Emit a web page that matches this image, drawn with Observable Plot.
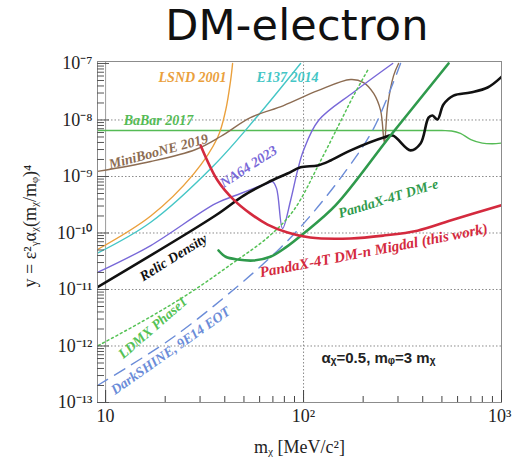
<!DOCTYPE html>
<html><head><meta charset="utf-8">
<script src="https://cdn.jsdelivr.net/npm/d3@7"></script>
<script src="https://cdn.jsdelivr.net/npm/@observablehq/plot@0.6"></script>
<style>
body{margin:0;background:#fff;width:512px;height:469px;overflow:hidden}
#title{height:50px;font-family:"DejaVu Sans",sans-serif;font-size:43px;line-height:50px;text-align:center;padding-left:82px;color:#111;white-space:nowrap;letter-spacing:0.2px}
#chart svg{display:block}
</style></head><body>
<div id="title">DM-electron</div>
<div id="chart"></div>
<script>
// ---- data (m_chi in MeV/c^2, y dimensionless) ----
const lsndX = [9.1, 16.9, 27.8, 36.8, 40.4, 42.8, 43.8];
const lsndY = [5.1e-11, 2.0e-10, 1.1e-9, 4.9e-9, 1.48e-8, 5e-8, 1e-7];

const e137X = [9.1, 16.9, 35.1, 57.3, 96.6];
const e137Y = [4.4e-11, 1.55e-10, 1.55e-9, 1.07e-8, 1e-7];

const babarX = [9.1, 100, 300, 500, 560, 620, 700, 800, 900, 1000];
const babarY = [6.5e-9, 6.5e-9, 6.5e-9, 6.5e-9, 6.4e-9, 5.8e-9, 4.5e-9, 3.9e-9, 3.8e-9, 3.9e-9];

const minibooneX = [9.1, 16.9, 28.5, 38.1, 53.9, 79.3, 118, 173, 201, 226, 245, 256, 266, 285, 302];
const minibooneY = [1.23e-9, 1.84e-9, 3.0e-9, 5.1e-9, 1.1e-8, 1.8e-8, 3.3e-8, 5.2e-8, 4.6e-8, 2.95e-8, 1.48e-8, 4.0e-9, 1.8e-8, 6.1e-8, 1e-7];

const na64X = [9.1, 16.9, 35.9, 48.1, 65.8, 69.7, 73.1, 78.3, 86, 93.3, 100, 119, 179, 282];
const na64Y = [2e-11, 6e-11, 3.3e-10, 5e-10, 7.6e-10, 8.1e-10, 6.1e-10, 1.2e-10, 3.76e-10, 1.28e-9, 2.9e-9, 9.8e-9, 3.1e-8, 1e-7];

const relicX = [9.1, 35.9, 49.8, 65.8, 83, 96.6, 118, 137, 173, 254, 282, 347, 390, 428, 448, 475, 509, 572, 697, 851, 1000];
const relicY = [1.1e-11, 2.04e-10, 4.6e-10, 7.8e-10, 1.13e-9, 1.45e-9, 1.57e-9, 1.92e-9, 2.9e-9, 4.9e-9, 5.3e-9, 2.9e-9, 3.84e-9, 1.1e-8, 1.2e-8, 1.02e-8, 1.88e-8, 2.7e-8, 3.07e-8, 3.76e-8, 5.8e-8];

const pandaEX = [37.2, 40.4, 46.4, 55.8, 68, 81, 100, 145, 275, 540];
const pandaEY = [4.9e-11, 3.8e-11, 3.4e-11, 3.26e-11, 3.8e-11, 5.5e-11, 9.8e-11, 3.07e-10, 5.3e-9, 1e-7];

const migdalX = [30.2, 36.8, 44.3, 53.9, 65.8, 83, 108, 173, 254, 376, 552, 1000];
const migdalY = [3.55e-9, 8.5e-10, 3.9e-10, 2.2e-10, 1.41e-10, 1.02e-10, 8.3e-11, 8e-11, 9e-11, 1.1e-10, 1.66e-10, 3.1e-10];

const ldmxX = [9.2, 16.9, 27.8, 44.3, 65.8, 89, 122, 153, 179, 213];
const ldmxY = [1.02e-12, 3.3e-12, 9.6e-12, 3e-11, 8.3e-11, 2.5e-10, 1.9e-9, 9.1e-9, 2.7e-8, 8.1e-8];

const darkshineX = [9.1, 20.8, 43.8, 76.6, 108, 167, 226, 309];
const darkshineY = [2e-13, 1.25e-12, 9.6e-12, 5.5e-11, 2e-10, 1.39e-9, 7.1e-9, 1e-7];

// tick values
const xMajor = [10, 100, 1000];
const xTickLabels = ["10", "10²", "10³"];
const yMajor = [1e-13, 1e-12, 1e-11, 1e-10, 1e-9, 1e-8, 1e-7];
const yTickLabels = ["10⁻¹³", "10⁻¹²", "10⁻¹¹", "10⁻¹⁰", "10⁻⁹", "10⁻⁸", "10⁻⁷"];
const gridX = [10, 100];
const gridY = [1e-12, 1e-11, 1e-10, 1e-9, 1e-8];

// curve labels
const labelText = ["LSND 2001", "E137 2014", "BaBar 2017", "MiniBooNE 2019", "NA64 2023", "Relic Density",
  "PandaX-4T DM-e", "PandaX-4T DM-n Migdal (this work)", "LDMX Phase1", "DarkSHINE, 9E14 EOT"];
const labelX = [27.5, 83, 18.5, 18.5, 52.7, 22, 268, 226, 17.3, 21.3];
const labelY = [5.65e-8, 5.65e-8, 9.8e-9, 2.77e-9, 1.5e-9, 3.7e-11, 4.07e-10, 4.9e-11, 2.1e-12, 8.3e-13];
const labelAngle = [0, 0, 0, -15, -33, -32, -17, -11, -41, -35];

// ---- styles ----
const C = {
  lsnd: "#eaa03c", e137: "#45c6c6", babar: "#55bb55", miniboone: "#8c6c52", na64: "#7868d8",
  relic: "#111111", pandaE: "#2f9a4c", migdal: "#d42a3e", ldmx: "#55c255", darkshine: "#6b8cd8"
};
const labelColor = [C.lsnd, C.e137, C.babar, C.miniboone, C.na64, C.relic, C.pandaE, C.migdal, C.ldmx, C.darkshine];

const W = 512, H = 419;
const mL = 97, mR = 11, mT = 11, mB = 67;
const frameW = W - mL - mR, frameH = H - mT - mB;

const zip = (xs, ys) => xs.map((x, i) => ({x, y: ys[i]}));

const xMinor = [], yMinor = [];
for (const d of [10, 100]) for (let m = 2; m <= 9; m++) xMinor.push(m * d);
for (let e = -13; e <= -8; e++) for (let m = 2; m <= 9; m++) yMinor.push(m * Math.pow(10, e));

const line = (xs, ys, color, opts = {}) =>
  Plot.line(zip(xs, ys), {x: "x", y: "y", stroke: color, strokeWidth: 1.4, curve: "catmull-rom", clip: true, ...opts});

const serif = "'Liberation Serif', 'Times New Roman', serif";

const chart = Plot.plot({
  width: W, height: H,
  marginLeft: mL, marginRight: mR, marginTop: mT, marginBottom: mB,
  style: {fontFamily: serif, background: "#fff", color: "#222", overflow: "visible"},
  x: {type: "log", domain: [9.1, 1000], axis: null},
  y: {type: "log", domain: [1e-13, 1.084e-7], axis: null},
  marks: [
    Plot.ruleY(gridY, {stroke: "#8a8a8a", strokeWidth: 1, strokeDasharray: "1.5,2"}),
    Plot.ruleX([gridX[1]], {stroke: "#8a8a8a", strokeWidth: 1, strokeDasharray: "1.5,2"}),
    Plot.ruleX([gridX[0]], {stroke: "#9a9a9a", strokeWidth: 1}),
    // curves
    line(babarX, babarY, C.babar),
    line(lsndX, lsndY, C.lsnd),
    line(e137X, e137Y, C.e137),
    line(minibooneX, minibooneY, C.miniboone),
    line(na64X, na64Y, C.na64),
    line(ldmxX, ldmxY, C.ldmx, {strokeDasharray: "2,3", strokeWidth: 1.5}),
    line(darkshineX, darkshineY, C.darkshine, {strokeDasharray: "12,8", strokeWidth: 1.4}),
    line(relicX, relicY, C.relic, {strokeWidth: 2.6}),
    line(pandaEX, pandaEY, C.pandaE, {strokeWidth: 2.6}),
    line(migdalX, migdalY, C.migdal, {strokeWidth: 2.6}),
    // frame and ticks
    Plot.frame({stroke: "#8c8c8c"}),
    Plot.tickX(xMinor, {x: d => d, insetTop: frameH - 6, stroke: "#444"}),
    Plot.tickX(xMajor, {x: d => d, insetTop: frameH - 12, stroke: "#444"}),
    Plot.tickY(yMinor, {y: d => d, insetRight: frameW - 7, stroke: "#555"}),
    Plot.tickY(yMajor, {y: d => d, insetRight: frameW - 12, stroke: "#555"}),
    // tick labels
    Plot.text(xMajor.slice(0, 2), {x: d => d, text: (d, i) => xTickLabels[i], frameAnchor: "bottom", dy: 19, fontSize: 18, textAnchor: "middle", fill: "#222"}),
    Plot.text(xMajor.slice(2), {x: d => d, text: () => xTickLabels[2], frameAnchor: "bottom", dy: 19, dx: 10, fontSize: 18, textAnchor: "end", fill: "#222"}),
    Plot.text(yMajor, {y: d => d, text: (d, i) => yTickLabels[i], frameAnchor: "left", dx: -5, fontSize: 18, textAnchor: "end", fill: "#222"}),
    // axis titles
    Plot.text(["mᵪ [MeV/c²]"], {frameAnchor: "bottom", dy: 50, fontSize: 18, textAnchor: "middle", fill: "#222"}),
    Plot.text(["y = ε²ᵧαᵪ(mᵪ/mᵩ)⁴"], {frameAnchor: "left", dx: -67, dy: -6, rotate: -90, fontSize: 18, textAnchor: "middle", fill: "#222"}),
    Plot.text(["αᵪ=0.5, mᵩ=3 mᵪ"], {x: [239], y: [6e-13], fontSize: 15, fontWeight: "bold", fontFamily: "'Liberation Sans', Arial, sans-serif", fill: "#222"}),
    // curve labels
    ...labelText.map((t, i) => Plot.text([t], {
      x: [labelX[i]], y: [labelY[i]], rotate: labelAngle[i], fill: labelColor[i],
      fontSize: i === 7 ? 15 : 14, fontStyle: "italic", fontWeight: "bold", fontFamily: serif
    }))
  ]
});
document.getElementById("chart").appendChild(chart);
</script>
</body></html>
